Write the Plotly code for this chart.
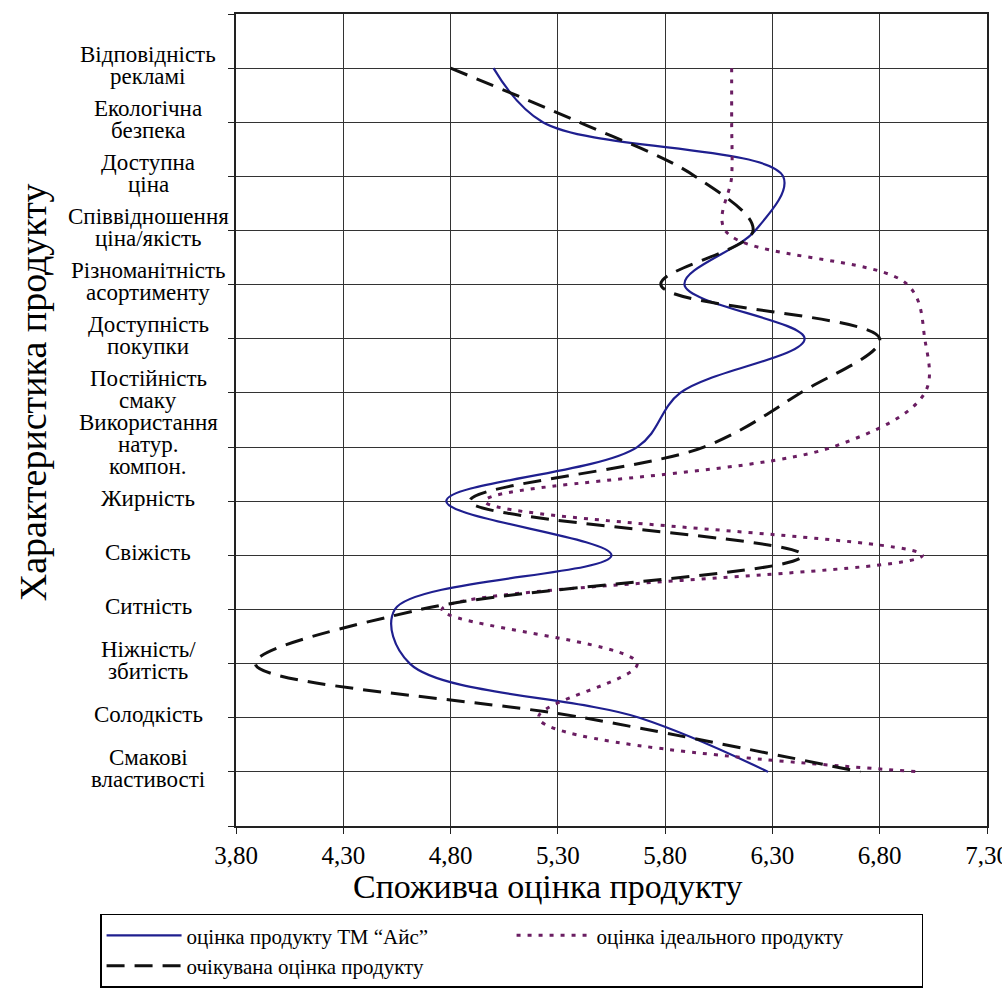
import plotly.graph_objects as go

# Categories, top to bottom
categories = [
    "Відповідність<br>рекламі",
    "Екологічна<br>безпека",
    "Доступна<br>ціна",
    "Співвідношення<br>ціна/якість",
    "Різноманітність<br>асортименту",
    "Доступність<br>покупки",
    "Постійність<br>смаку",
    "Використання<br>натур.<br>компон.",
    "Жирність",
    "Свіжість",
    "Ситність",
    "Ніжність/<br>збитість",
    "Солодкість",
    "Смакові<br>властивості",
]

# Values, top to bottom (same order as categories)
ais_values = [5.00, 5.23, 6.35, 6.22, 5.89, 6.45, 5.87, 5.67, 4.78, 5.55, 4.54, 4.61, 5.68, 6.28]
ideal_values = [6.11, 6.11, 6.11, 6.08, 6.93, 7.01, 7.01, 6.58, 4.96, 7.00, 4.76, 5.67, 5.21, 6.99]
expected_values = [4.80, 5.40, 5.94, 6.21, 5.78, 6.80, 6.43, 5.98, 4.89, 6.44, 4.66, 3.89, 5.42, 6.71]

x_ticks = [3.80, 4.30, 4.80, 5.30, 5.80, 6.30, 6.80, 7.30]
x_tick_labels = ["3,80", "4,30", "4,80", "5,30", "5,80", "6,30", "6,80", "7,30"]

series_names = [
    "оцінка продукту ТМ “Айс”",
    "оцінка ідеального продукту",
    "очікувана оцінка продукту",
]

n = len(categories)
ypos = [n - 1 - i for i in range(n)]  # top category at highest position

FONT = "Liberation Serif, Tinos, Times New Roman, serif"
FONT_SINGLE = "Liberation Serif"

fig = go.Figure()
fig.add_trace(go.Scatter(
    x=ais_values, y=ypos, mode="lines", name=series_names[0],
    line=dict(color="#1f1f8f", width=2.2, shape="spline", smoothing=1.0),
    legendrank=1,
))
fig.add_trace(go.Scatter(
    x=ideal_values, y=ypos, mode="lines", name=series_names[1],
    line=dict(color="#6a1d62", width=3, dash="4px,7px", shape="spline", smoothing=1.0),
    legendrank=2,
))
fig.add_trace(go.Scatter(
    x=expected_values, y=ypos, mode="lines", name=series_names[2],
    line=dict(color="#111111", width=3, dash="18px,10px", shape="spline", smoothing=1.0),
    legendrank=3,
))

annotations = []
line_h = 22
for i, lab in enumerate(categories):
    parts = lab.split("<br>")
    m = len(parts)
    for j, p in enumerate(parts):
        annotations.append(dict(
            xref="paper", yref="y", x=-0.117, y=ypos[i],
            text=p, showarrow=False, xanchor="center", yanchor="middle",
            yshift=3 + ((m - 1) / 2 - j) * line_h,
            font=dict(family=FONT, size=23, color="black"),
        ))

annotations.append(dict(
    xref="paper", yref="paper", x=0.415, y=-0.074,
    text="Споживча оцінка продукту", showarrow=False,
    xanchor="center", yanchor="middle",
    font=dict(family=FONT, size=34, color="black"),
))
annotations.append(dict(
    xref="paper", yref="paper", x=-0.27, y=0.5345,
    text="Характеристика продукту", showarrow=False, textangle=-90,
    xanchor="center", yanchor="middle",
    font=dict(family=FONT, size=38, color="black"),
))

fig.update_layout(
    width=1002, height=992,
    margin=dict(l=236, r=15, t=14, b=166, autoexpand=False),
    paper_bgcolor="white", plot_bgcolor="white",
    font=dict(family=FONT_SINGLE, color="black"),
    showlegend=True,
    xaxis=dict(
        range=[3.8, 7.3], tickvals=x_ticks, ticktext=x_tick_labels,
        showgrid=True, gridcolor="#333333", gridwidth=1.4,
        showline=True, linecolor="#222", linewidth=1.5, mirror=True,
        ticks="outside", ticklen=6, tickcolor="#222",
        tickfont=dict(family=FONT_SINGLE, size=25, color="black"),
        ticklabeloverflow="allow",
        zeroline=False,
    ),
    yaxis=dict(
        range=[-1, n], tickmode="linear", tick0=-1, dtick=1,
        showticklabels=False,
        showgrid=True, gridcolor="#333333", gridwidth=1.4,
        showline=True, linecolor="#222", linewidth=1.5, mirror=True,
        ticks="outside", ticklen=6, tickcolor="#222",
        zeroline=False,
    ),
    legend=dict(
        orientation="h", x=-0.181, y=-0.108, xanchor="left", yanchor="top",
        bordercolor="black", borderwidth=1.5, bgcolor="white",
        font=dict(family=FONT_SINGLE, size=21, color="black"),
        entrywidth=320, itemwidth=75, tracegroupgap=0,
    ),
    annotations=annotations,
)

fig.write_html(
    "out.html",
    config={"displayModeBar": False},
    post_script="document.body.style.margin='0px';document.body.style.overflow='hidden';",
)
